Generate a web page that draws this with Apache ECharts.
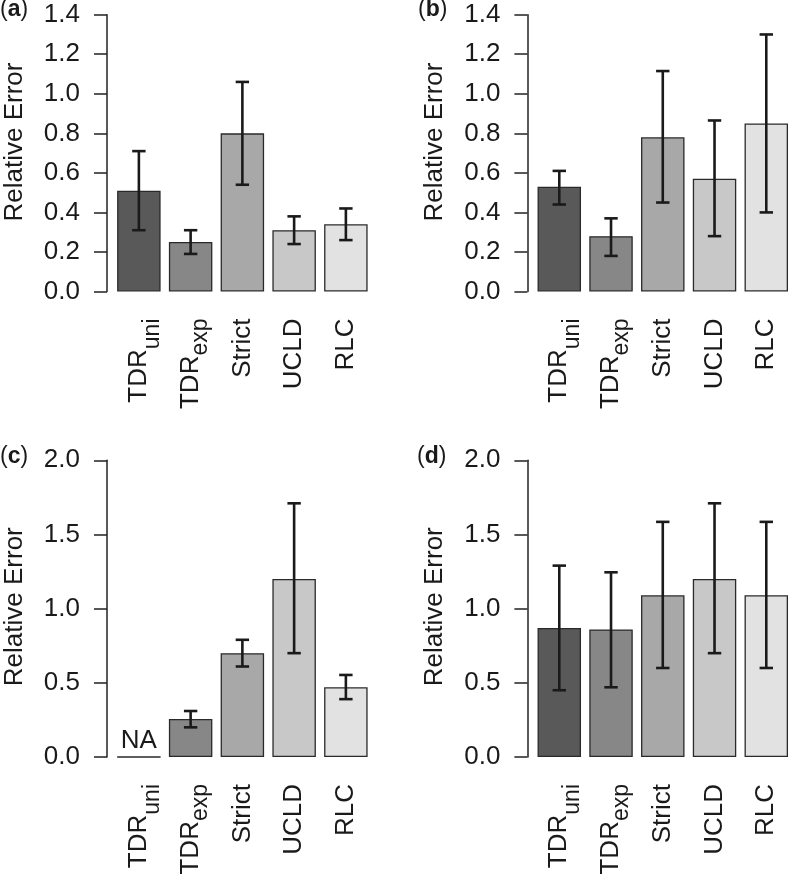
<!DOCTYPE html>
<html>
<head>
<meta charset="utf-8">
<script src="https://cdn.jsdelivr.net/npm/echarts@6/dist/echarts.min.js"></script>
<style>
  html, body { margin: 0; padding: 0; background: #fff; }
  #main { width: 789px; height: 874px; }
</style>
</head>
<body>
<div id="main"></div>
<script>
// categories, in the order they're plotted
var methods = ['TDR_uni', 'TDR_exp', 'Strict', 'UCLD', 'RLC'];

// (a)
var aValues = [0.51, 0.25, 0.80, 0.31, 0.34];
var aLower  = [0.31, 0.19, 0.54, 0.24, 0.26];
var aUpper  = [0.71, 0.31, 1.06, 0.38, 0.42];
// (b)
var bValues = [0.53, 0.28, 0.78, 0.57, 0.85];
var bLower  = [0.44, 0.18, 0.45, 0.28, 0.40];
var bUpper  = [0.61, 0.37, 1.115, 0.865, 1.30];
// (c)  TDR_uni is NA
var cValues = [null, 0.256, 0.70, 1.20, 0.47];
var cLower  = [null, 0.20, 0.61, 0.70, 0.39];
var cUpper  = [null, 0.31, 0.79, 1.71, 0.553];
// (d)
var dValues = [0.87, 0.86, 1.09, 1.20, 1.09];
var dLower  = [0.45, 0.47, 0.60, 0.70, 0.60];
var dUpper  = [1.29, 1.245, 1.585, 1.71, 1.585];

// y axis ticks
var topTicks = [0, 0.2, 0.4, 0.6, 0.8, 1.0, 1.2, 1.4];
var bottomTicks = [0, 0.5, 1.0, 1.5, 2.0];

var barColors = ['#595959', '#878787', '#a8a8a8', '#c8c8c8', '#e2e2e2'];
var FONT = '"Liberation Sans", Arial, Helvetica, sans-serif';
var INK = '#1a1a1a';
var LABEL_SIZE = 26;
var SUB_SIZE = 23;

var chart = echarts.init(document.getElementById('main'));

// outerBoundsMode none: keep the grids where they are even if labels stick out
var grids = [
  {left: 113, top: 14.7, width: 258.75, height: 276.8, outerBoundsMode: 'none'},
  {left: 533.4, top: 14.7, width: 258.75, height: 276.8, outerBoundsMode: 'none'},
  {left: 113, top: 460.3, width: 258.75, height: 296.7, outerBoundsMode: 'none'},
  {left: 533.4, top: 460.3, width: 258.75, height: 296.7, outerBoundsMode: 'none'}
];

function xLabel(v){
  if(v=='TDR_uni') return 'TDR{u|uni}';
  if(v=='TDR_exp') return 'TDR{e|exp}';
  return v;
}

var xAxes = [], yAxes = [], series = [];
var panels = [
  [aValues, aLower, aUpper, topTicks],
  [bValues, bLower, bUpper, topTicks],
  [cValues, cLower, cUpper, bottomTicks],
  [dValues, dLower, dUpper, bottomTicks]
];

for(var p=0;p<panels.length;p++){
  var vals = panels[p][0], lo = panels[p][1], hi = panels[p][2], ticks = panels[p][3];
  xAxes.push({
    type: 'category',
    gridIndex: p,
    data: methods,
    axisLine: {show: false},
    axisTick: {show: false},
    axisLabel: {
      interval: 0,
      rotate: 90,
      margin: 27,
      fontSize: LABEL_SIZE,
      fontFamily: FONT,
      color: INK,
      formatter: xLabel,
      rich: {   // subscripts: top padding pushes them down (= right once rotated)
        u: {fontSize: SUB_SIZE, fontFamily: FONT, color: INK, padding: [27, 0, 0, 0]},
        e: {fontSize: SUB_SIZE, fontFamily: FONT, color: INK, padding: [21, 0, 0, 0]}
      }
    }
  });
  yAxes.push({
    type: 'value',
    gridIndex: p,
    min: ticks[0],
    max: ticks[ticks.length-1],
    interval: ticks[1]-ticks[0],
    offset: 6,
    splitLine: {show: false},
    axisLine: {show: true, lineStyle: {color: '#222', width: 1.5}},
    axisTick: {show: true, length: 13, lineStyle: {color: '#222', width: 1.5}},
    axisLabel: {
      margin: 27,
      fontSize: LABEL_SIZE,
      fontFamily: FONT,
      color: INK,
      formatter: function(v){ return v.toFixed(1); }
    }
  });

  var barData = [];
  var errData = [];
  for(var i=0;i<vals.length;i++){
    if(vals[i]===null){
      barData.push({value: 0, label: {show: true, formatter: 'NA', position: 'top', distance: 3,
        fontSize: LABEL_SIZE, fontFamily: FONT, color: INK}});
    }else{
      barData.push(vals[i]);
      errData.push([i, lo[i], hi[i]]);
    }
  }
  series.push({
    type: 'bar',
    xAxisIndex: p,
    yAxisIndex: p,
    data: barData,
    barCategoryGap: '16%',
    animation: false,
    z: 2,
    itemStyle: {
      color: function(params){ return barColors[params.dataIndex]; },
      borderColor: '#2a2a2a',
      borderWidth: 1.3
    }
  });
  series.push({
    type: 'custom',
    xAxisIndex: p,
    yAxisIndex: p,
    data: errData,
    animation: false,
    clip: false,
    z: 10,
    encode: {x: 0, y: [1, 2]},
    renderItem: function(params, api){
      var x = api.value(0);
      var pLo = api.coord([x, api.value(1)]);
      var pHi = api.coord([x, api.value(2)]);
      var hw = 6.7;
      var st = {stroke: INK, lineWidth: 2.6};
      return {
        type: 'group',
        children: [
          {type: 'line', shape: {x1: pLo[0], y1: pLo[1], x2: pHi[0], y2: pHi[1]}, style: st},
          {type: 'line', shape: {x1: pHi[0]-hw, y1: pHi[1], x2: pHi[0]+hw, y2: pHi[1]}, style: st},
          {type: 'line', shape: {x1: pLo[0]-hw, y1: pLo[1], x2: pLo[0]+hw, y2: pLo[1]}, style: st}
        ]
      };
    }
  });
}

// panel letters and y titles
var letters = [['a', 0, 11.5], ['b', 418, 11.5], ['c', 0, 458.5], ['d', 417, 458]];
var yTitles = [[15, 142], [435, 142], [15, 606.7], [435, 606.7]];
var graphics = [];
for(var k=0;k<letters.length;k++){
  graphics.push({
    type: 'text', left: letters[k][1], top: letters[k][2] - 13,
    style: {
      text: '({b|' + letters[k][0] + '})',
      fontSize: 23, fontFamily: FONT, fill: INK,
      rich: {b: {fontSize: 23, fontWeight: 'bold', fontFamily: FONT, fill: INK, color: INK}}
    }
  });
  graphics.push({
    type: 'text', x: yTitles[k][0], y: yTitles[k][1], rotation: Math.PI/2,
    style: {
      text: 'Relative Error', fontSize: LABEL_SIZE, fontFamily: FONT, fill: INK,
      align: 'center', verticalAlign: 'middle'
    }
  });
}

chart.setOption({
  animation: false,
  grid: grids,
  xAxis: xAxes,
  yAxis: yAxes,
  series: series,
  graphic: graphics
});
</script>
</body>
</html>
